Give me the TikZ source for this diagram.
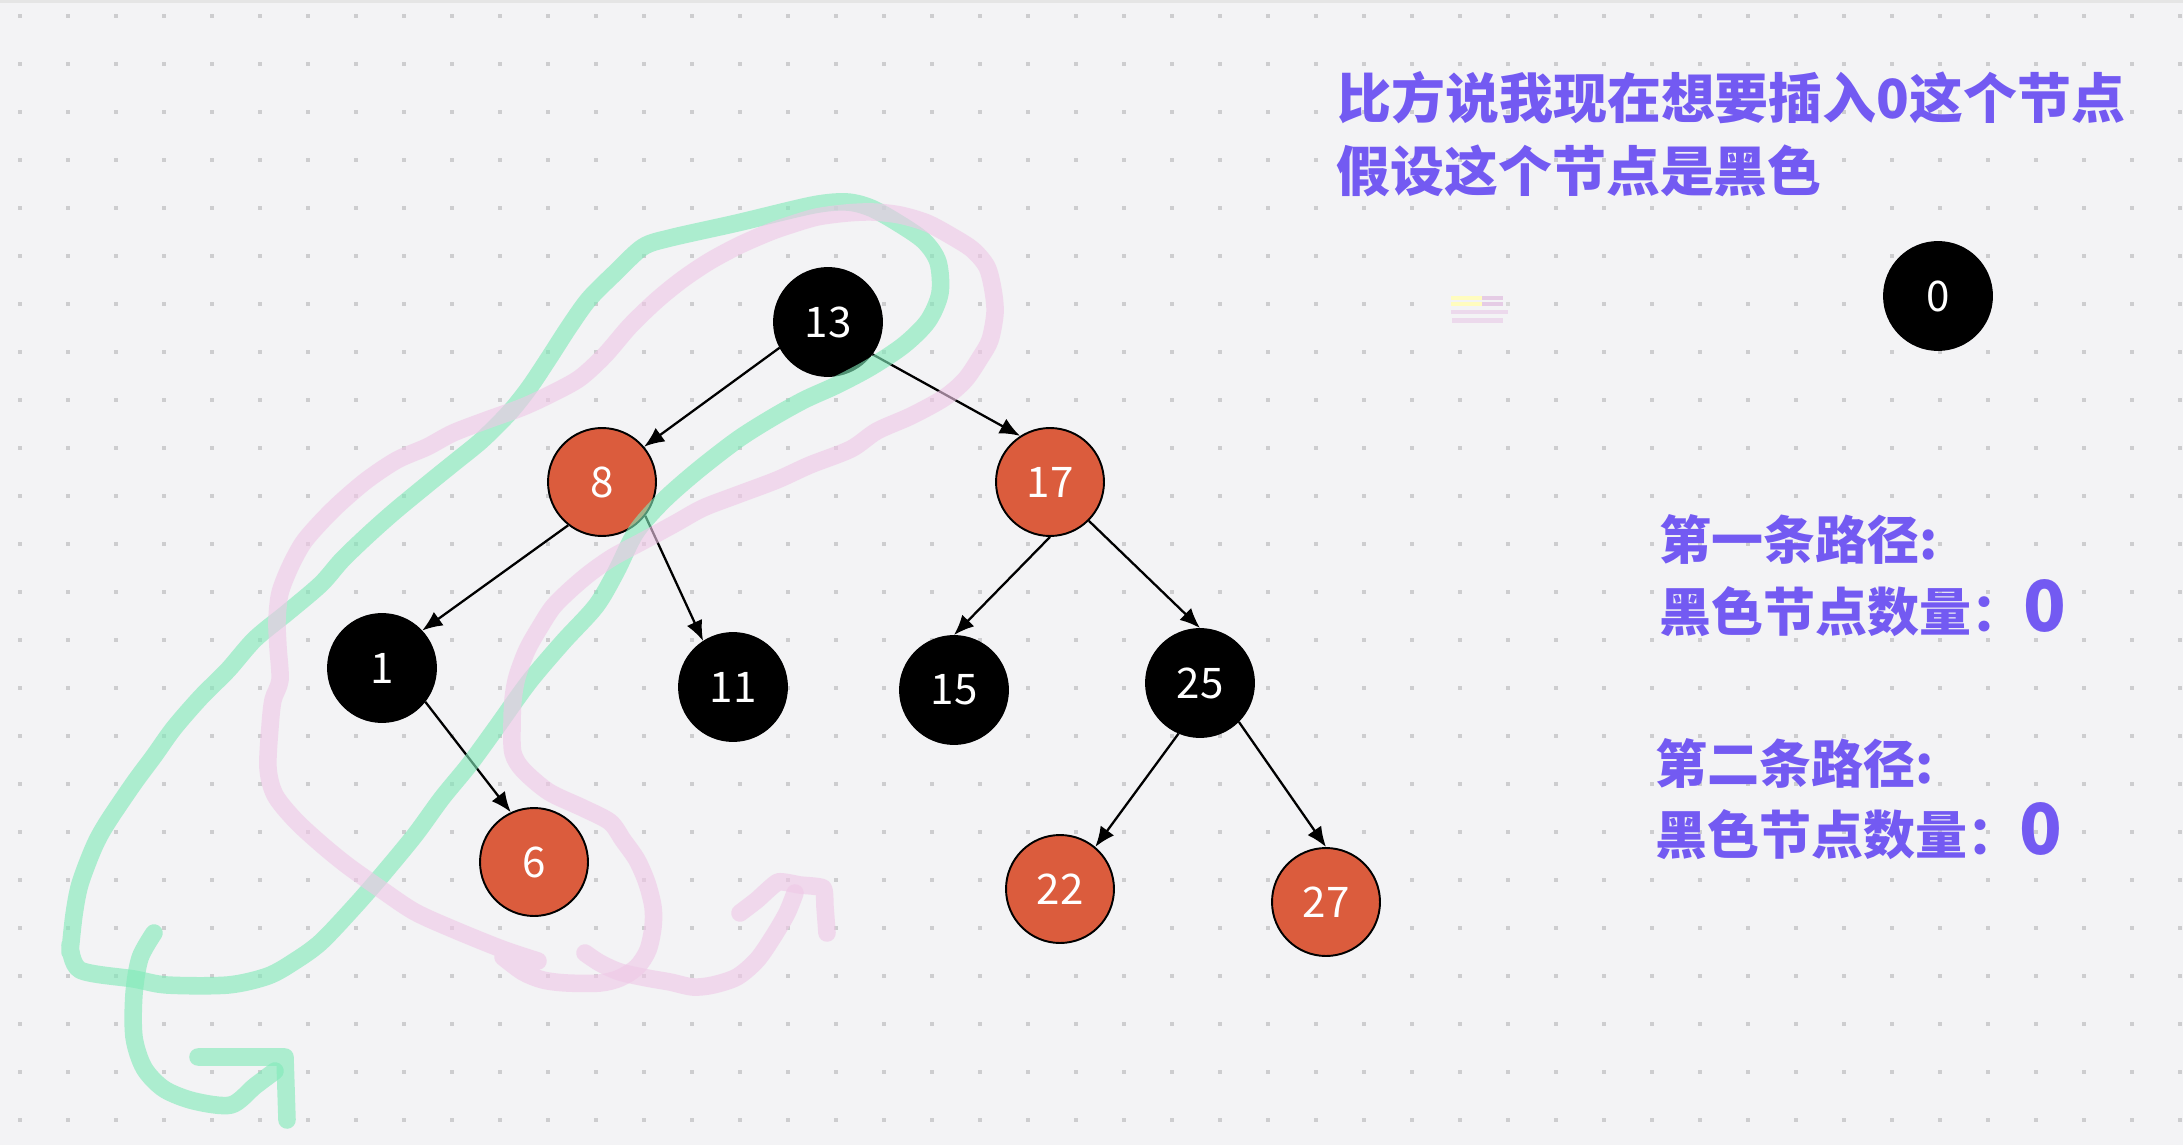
\documentclass[tikz,border=0pt]{standalone}
\usepackage{fontspec}
\usetikzlibrary{arrows.meta}
\newfontfamily\cjkfont{Noto Sans CJK SC}
\definecolor{bgcol}{RGB}{243,243,245}
\definecolor{dotcol}{RGB}{205,205,207}
\definecolor{nodered}{RGB}{219,92,61}
\definecolor{notecol}{RGB}{115,90,242}
\definecolor{pathgreen}{RGB}{129,234,185}
\definecolor{pathpink}{RGB}{239,200,231}
\tikzset{
 blacknode/.style={circle, draw=black, fill=black, line width=1.1pt, minimum size=2.16cm, inner sep=0pt, text=white, font=\cjkfont\fontsize{24}{24}\selectfont},
 rednode/.style={blacknode, fill=nodered},
 note/.style={anchor=base west, inner sep=0pt, text=notecol, font=\cjkfont\bfseries\fontsize{29.6}{30}\selectfont},
 title/.style={note, font=\cjkfont\bfseries\fontsize{30.7}{31}\selectfont},
 marker/.style={line width=10pt, line cap=round, line join=round, draw opacity=0.62},
}

\begin{document}
\begin{tikzpicture}[x=0.02cm, y=-0.02cm]
\useasboundingbox (0,0) rectangle (2183,1145);
\fill[bgcol] (0,0) rectangle (2183,1145);
\fill[black!10] (0,0) rectangle (2183,3);
\foreach \i in {0,...,45}
 \foreach \j in {0,...,23}
  \fill[dotcol] ({18+48*\i},{14+48*\j}) rectangle ++(4,4);

% tiny pasted snippet
\fill[yellow!25] (1451,296) rectangle (1482,300);
\fill[violet!20] (1482,296) rectangle (1503,300);
\fill[yellow!25] (1451,302) rectangle (1482,306);
\fill[violet!20] (1482,302) rectangle (1503,306);
\fill[black!15] (1506,302) rectangle (1510,306);
\fill[violet!15] (1451,310) rectangle (1508,314);
\fill[violet!15] (1452,318) rectangle (1503,323);

\node[blacknode] (n13) at (828,322) {13};
\node[rednode] (n8) at (602,482) {8};
\node[rednode] (n17) at (1050,482) {17};
\node[blacknode] (n1) at (382,668) {1};
\node[blacknode] (n11) at (733,687) {11};
\node[blacknode] (n15) at (954,690) {15};
\node[blacknode] (n25) at (1200,683) {25};
\node[rednode] (n6) at (534,862) {6};
\node[rednode] (n22) at (1060,889) {22};
\node[rednode] (n27) at (1326,902) {27};
\node[blacknode] (n0) at (1938,296) {0};

\foreach \a/\b in {13.208/8.40, 13.-36/17.123, 8.232/1.43, 8.-38/11.123, 1.-38/6.115, 17.-90/15.90, 17.-45/25.90, 25.247/22.50, 25.-45/27.90}
 \draw[->, >={Latex[length=11.5pt,width=9.5pt]}, line width=1.3pt] (n\a) -- (n\b);

% green path
\draw[marker, draw=pathgreen] plot[smooth, tension=0.5] coordinates {(70,945) (80,970) (134,979) (167,985) (228,985) (268,976) (295,961) (321,942) (355,906) (382,875) (415,835) (442,798) (469,765) (496,728) (529,682) (563,642) (596,606) (616,572) (636,532) (663,501) (697,471) (737,440) (770,419) (804,400) (837,385) (871,367) (904,345) (928,321) (940,293) (938,262) (924,241) (898,223) (871,208) (847,202) (813,205) (737,223) (670,238) (643,247) (616,272) (589,299) (569,327) (549,358) (529,388) (509,413) (482,440) (455,462) (429,483) (395,511) (368,535) (342,560) (321,584) (288,612) (255,639) (228,670) (201,697) (174,728) (154,756) (134,783) (107,823) (94,847) (80,884) (74,915) (70,952)};
\draw[marker, draw=pathgreen] plot[smooth, tension=0.5] coordinates {(154,933) (140,958) (134,994) (134,1037) (144,1068) (164,1089) (194,1101) (231,1105) (255,1086) (275,1071)};
\draw[marker, draw=pathgreen] (198,1057) -- (285,1057) -- (287,1120);

% pink path
\draw[marker, draw=pathpink] plot[smooth, tension=0.5] coordinates {(538,961) (502,949) (455,930) (415,912) (382,890) (348,866) (321,844) (295,820) (275,795) (268,768) (270,727) (273,700) (280,680) (278,647) (277,620) (280,593) (290,567) (303,543) (320,523) (340,503) (367,480) (397,460) (427,447) (453,433) (487,420) (523,407) (553,393) (580,378) (605,355) (630,326) (657,300) (683,279) (710,261) (740,245) (770,232) (790,225) (817,217) (847,213) (873,212) (900,215) (927,223) (953,237) (973,250) (987,267) (993,290) (995,313) (990,340) (980,358) (965,380) (944,398) (911,416) (877,431) (851,449) (810,465) (777,480) (737,495) (703,508) (676,523) (643,541) (613,557) (590,573) (570,590) (553,607) (540,627) (527,650) (517,677) (513,700) (512,727) (513,753) (523,770) (549,792) (583,808) (610,822) (623,840) (637,860) (647,883) (653,907) (653,927) (648,950) (637,967) (620,978) (600,983) (567,983) (543,980) (523,972) (503,957)};
\draw[marker, draw=pathpink] plot[smooth, tension=0.5] coordinates {(585,953) (600,963) (620,972) (647,978) (670,982) (693,987) (713,985) (737,977) (757,960) (773,937) (787,913) (795,893)};
\draw[marker, draw=pathpink] plot[smooth, tension=0.3] coordinates {(740,913) (757,900) (778,882) (800,885) (823,888) (825,907) (827,933)};

\node[title] (t1) at (1337,119) {比方说我现在想要插入0这个节点};
\node[title] (t2) at (1336,192) {假设这个节点是黑色};
\node[note] (p1) at (1659,559) {第一条路径:};
\node[note] (c1) at (1659,631) {黑色节点数量：{\fontsize{40}{40}\selectfont 0}};
\node[note] (p2) at (1655,783) {第二条路径:};
\node[note] (c2) at (1655,854) {黑色节点数量：{\fontsize{40}{40}\selectfont 0}};
\end{tikzpicture}
\end{document}
